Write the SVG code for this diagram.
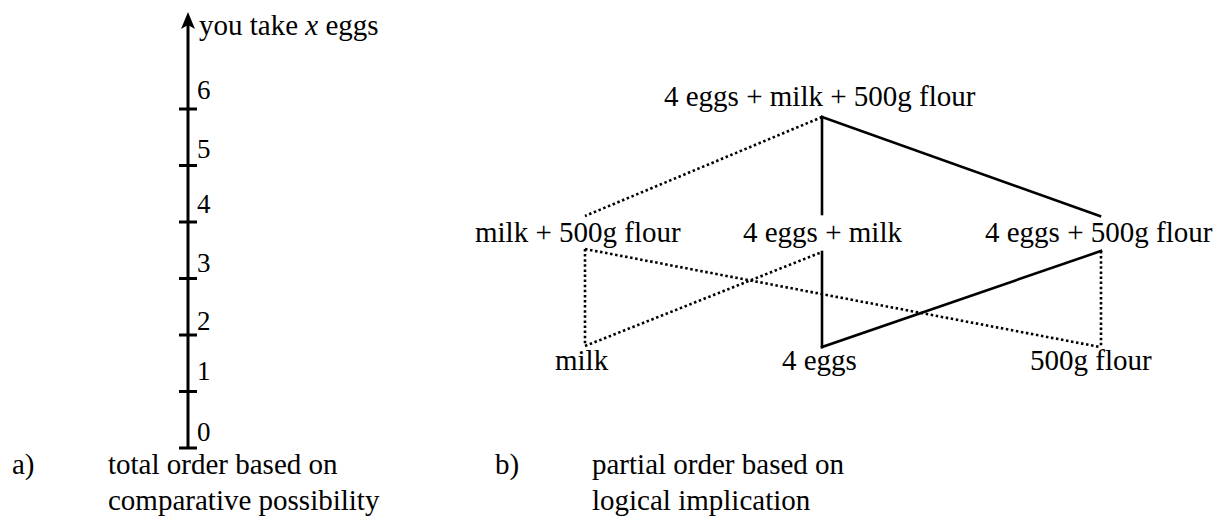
<svg xmlns="http://www.w3.org/2000/svg" width="1224" height="519" viewBox="0 0 1224 519">
<style>
.t{font-family:'Liberation Serif','Times New Roman',serif;font-size:29px;fill:#000}
.num{font-size:27px}
.solid{stroke:#000;stroke-width:2.6;fill:none;stroke-linecap:square}
.dot{stroke:#000;stroke-width:2.6;fill:none;stroke-dasharray:2.5 2.6}
.axis{stroke:#000;stroke-width:3;fill:none}
</style>
<rect width="1224" height="519" fill="#fff"/>
<g class="t">
<g id="axis">
<line class="axis" x1="188" y1="448" x2="188" y2="22"/>
<path d="M188,12 L181,29 L188,25 L195,29 Z" fill="#000"/>
<g class="axis">
<line x1="179" y1="448" x2="197" y2="448"/>
<line x1="179" y1="391.5" x2="197" y2="391.5"/>
<line x1="179" y1="335" x2="197" y2="335"/>
<line x1="179" y1="278.5" x2="197" y2="278.5"/>
<line x1="179" y1="222" x2="197" y2="222"/>
<line x1="179" y1="165.5" x2="197" y2="165.5"/>
<line x1="179" y1="109" x2="197" y2="109"/>
</g>
<text x="199" y="35">you take <tspan font-style="italic">x</tspan> eggs</text>
<text class="num" x="197" y="441">0</text>
<text class="num" x="197" y="380">1</text>
<text class="num" x="197" y="330">2</text>
<text class="num" x="197" y="272">3</text>
<text class="num" x="197" y="213">4</text>
<text class="num" x="197" y="158">5</text>
<text class="num" x="197" y="99">6</text>
</g>
<g id="connectors">
<line class="solid" x1="822" y1="117" x2="822" y2="214"/>
<line class="dot" x1="822" y1="117" x2="585" y2="216"/>
<line class="solid" x1="822" y1="117" x2="1100" y2="216"/>
<line class="dot" x1="585" y1="249" x2="585" y2="346"/>
<line class="dot" x1="585" y1="346" x2="822" y2="252"/>
<line class="dot" x1="585" y1="249" x2="1100" y2="347"/>
<line class="solid" x1="822" y1="252" x2="822" y2="347"/>
<line class="solid" x1="822" y1="347" x2="1101" y2="251"/>
<line class="dot" x1="1101" y1="251" x2="1101" y2="347"/>
</g>
<g id="n-top"><text x="664" y="106">4 eggs + milk + 500g flour</text></g>
<g id="n-milk-flour"><text x="475" y="242">milk + 500g flour</text></g>
<g id="n-eggs-milk"><text x="743" y="242">4 eggs + milk</text></g>
<g id="n-eggs-flour"><text x="985" y="242">4 eggs + 500g flour</text></g>
<g id="n-milk"><text x="555" y="370">milk</text></g>
<g id="n-eggs"><text x="782" y="370">4 eggs</text></g>
<g id="n-flour"><text x="1030" y="370">500g flour</text></g>
<g id="caption-a">
<text x="12" y="474">a)</text>
<text x="108" y="474">total order based on</text>
<text x="108" y="510">comparative possibility</text>
</g>
<g id="caption-b">
<text x="495" y="474">b)</text>
<text x="592" y="474">partial order based on</text>
<text x="592" y="510">logical implication</text>
</g>
</g>
</svg>
